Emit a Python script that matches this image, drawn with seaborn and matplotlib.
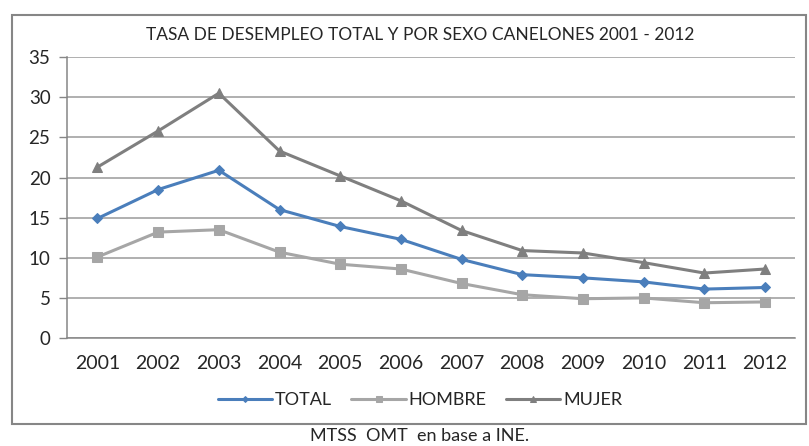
import pandas as pd
import matplotlib
matplotlib.use("Agg")
import matplotlib.pyplot as plt
import seaborn as sns
from matplotlib.patches import Rectangle

# data
years = ["2001", "2002", "2003", "2004", "2005", "2006",
         "2007", "2008", "2009", "2010", "2011", "2012"]
total = [14.9, 18.5, 20.9, 16.0, 13.9, 12.3, 9.8, 7.9, 7.5, 7.0, 6.1, 6.3]
hombre = [10.1, 13.2, 13.5, 10.7, 9.2, 8.6, 6.8, 5.4, 4.9, 5.0, 4.4, 4.5]
mujer = [21.3, 25.8, 30.5, 23.3, 20.2, 17.1, 13.4, 10.9, 10.6, 9.4, 8.1, 8.6]

series = {"TOTAL": total, "HOMBRE": hombre, "MUJER": mujer}
colors = {"TOTAL": "#4a7ebb", "HOMBRE": "#a6a6a6", "MUJER": "#7f7f7f"}
markers = {"TOTAL": "D", "HOMBRE": "s", "MUJER": "^"}
msize = {"TOTAL": 5, "HOMBRE": 7, "MUJER": 7}

df = pd.DataFrame({"year": years * 3,
                   "serie": [k for k in series for _ in years],
                   "valor": total + hombre + mujer})

sns.set_style("white")
plt.rcParams["font.family"] = ["Lato", "DejaVu Sans"]

fig = plt.figure(figsize=(8.09, 4.46), dpi=100)
ax = fig.add_axes([0.083, 0.242, 0.9, 0.63])

for name in series:
    sub = df[df["serie"] == name]
    sns.lineplot(data=sub, x="year", y="valor", ax=ax, color=colors[name],
                 marker=markers[name], markersize=msize[name],
                 markeredgecolor=colors[name], linewidth=2.2, label=name)

ax.set_ylim(0, 35)
ax.set_yticks(range(0, 36, 5))
ax.set_xlim(-0.5, len(years) - 0.5)
ax.set_xticks(range(len(years)))
ax.set_xticklabels(years)
ax.set_xticks([i - 0.5 for i in range(len(years) + 1)], minor=True)
ax.tick_params(axis="x", which="major", length=0, pad=12, labelsize=14)
ax.tick_params(axis="x", which="minor", length=6, color="#868686", width=1)
ax.tick_params(axis="y", length=6, color="#868686", width=1, labelsize=13.5, pad=6,
               left=True)
ax.set_xlabel("")
ax.set_ylabel("")
ax.grid(axis="y", color="#9a9a9a", linewidth=1.1)
ax.set_axisbelow(True)
for s in ["top", "right"]:
    ax.spines[s].set_visible(False)
for s in ["left", "bottom"]:
    ax.spines[s].set_color("#868686")
    ax.spines[s].set_linewidth(1.1)

ax.get_legend().remove()
handles, labels = ax.get_legend_handles_labels()
fig.legend(handles, labels, loc="center", bbox_to_anchor=(0.519, 0.103), ncol=3,
           frameon=False, fontsize=13, handlelength=3.0, handletextpad=0.15,
           columnspacing=1.1, markerscale=0.6)

fig.text(0.519, 0.921, "TASA DE DESEMPLEO TOTAL Y POR SEXO CANELONES 2001 - 2012",
         ha="center", va="center", fontsize=12.5)
fig.text(0.519, 0.022, "MTSS  OMT  en base a INE.", ha="center", va="center",
         fontsize=13)

fig.patches.append(Rectangle((0.0148, 0.049), 0.981, 0.917, transform=fig.transFigure,
                             fill=False, edgecolor="#868686", linewidth=1.5))

fig.savefig("out.png", dpi=100)
